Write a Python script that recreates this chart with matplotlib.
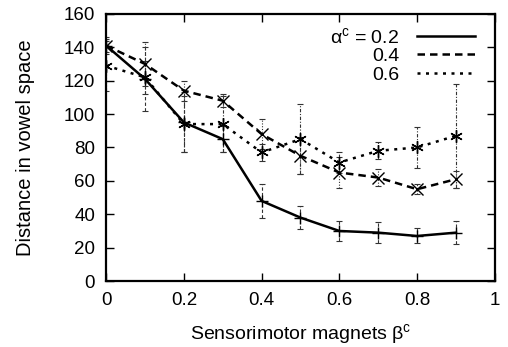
import matplotlib
matplotlib.use("Agg")
import matplotlib.pyplot as plt
from matplotlib.lines import Line2D

plt.rcParams['font.family'] = ['Liberation Sans', 'DejaVu Sans']
plt.rcParams['mathtext.fontset'] = 'custom'
plt.rcParams['mathtext.rm'] = 'Liberation Sans'
plt.rcParams['mathtext.it'] = 'Liberation Sans'

x = [0, 0.1, 0.2, 0.3, 0.4, 0.5, 0.6, 0.7, 0.8, 0.9]
labels = ["α$^{\\mathregular{c}}$ = 0.2", "0.4", "0.6"]
y02 = [141, 121, 95, 85, 48, 38, 30, 29, 27, 29]
e02 = [5, 19, 18, 8, 10, 7, 6, 6.5, 4.5, 7]
y04 = [141, 130, 114, 108, 88, 75, 65, 62, 55, 61]
e04 = [4, 13, 6, 4, 9, 11, 9, 5, 3, 5]
y06 = [129, 122, 94, 94, 77, 85, 71, 78, 80, 87]
e06 = [15, 10, 17, 17, 5, 21, 6, 5, 12, 31]

fig = plt.figure(figsize=(5.08, 3.47), dpi=100)
ax = fig.add_axes([0.209, 0.190, 0.765, 0.770])

asterisk = (6, 2, 0)
series = [
    (y02, e02, '-', '+', (0, (3, 2))),
    (y04, e04, (0, (3, 2)), 'x', (0, (1, 1.5))),
    (y06, e06, (0, (1.2, 2.2)), asterisk, (0, (3, 1.5, 1, 1.5))),
]
for ys, es, ls, mk, els in series:
    ax.plot(x, ys, color='black', linestyle=ls, linewidth=1.8,
            marker=mk, markersize=9, markeredgewidth=1.0, zorder=3)
    eb = ax.errorbar(x, ys, yerr=es, fmt='none', ecolor='#333333',
                     elinewidth=0.8, capsize=2.5, capthick=0.8, zorder=2)
    for lc in eb[2]:
        lc.set_linestyle(els)

ax.set_xlim(0, 1)
ax.set_ylim(0, 160)
ax.set_xticks([0, 0.2, 0.4, 0.6, 0.8, 1])
ax.set_xticklabels(['0', '0.2', '0.4', '0.6', '0.8', '1'])
ax.set_yticks(range(0, 161, 20))
ax.tick_params(direction='in', top=True, right=True, length=6, width=1.0,
               labelsize=13.5, pad=8)
for s in ax.spines.values():
    s.set_linewidth(1.6)

ax.set_xlabel("Sensorimotor magnets β$^{\\mathregular{c}}$", fontsize=14, labelpad=9)
ax.set_ylabel("Distance in vowel space", fontsize=14.5, labelpad=21)

handles = [
    Line2D([], [], color='black', linestyle='-', linewidth=1.8),
    Line2D([], [], color='black', linestyle=(0, (3, 2)), linewidth=1.8),
    Line2D([], [], color='black', linestyle=(0, (1.2, 2.2)), linewidth=1.8),
]
ax.legend(handles, labels, loc='upper right', bbox_to_anchor=(0.982, 1.0),
          frameon=False, markerfirst=False,
          fontsize=14, handlelength=3.0, handletextpad=0.9, labelspacing=0.05,
          borderaxespad=0.25)

fig.savefig("out.png", dpi=100)
